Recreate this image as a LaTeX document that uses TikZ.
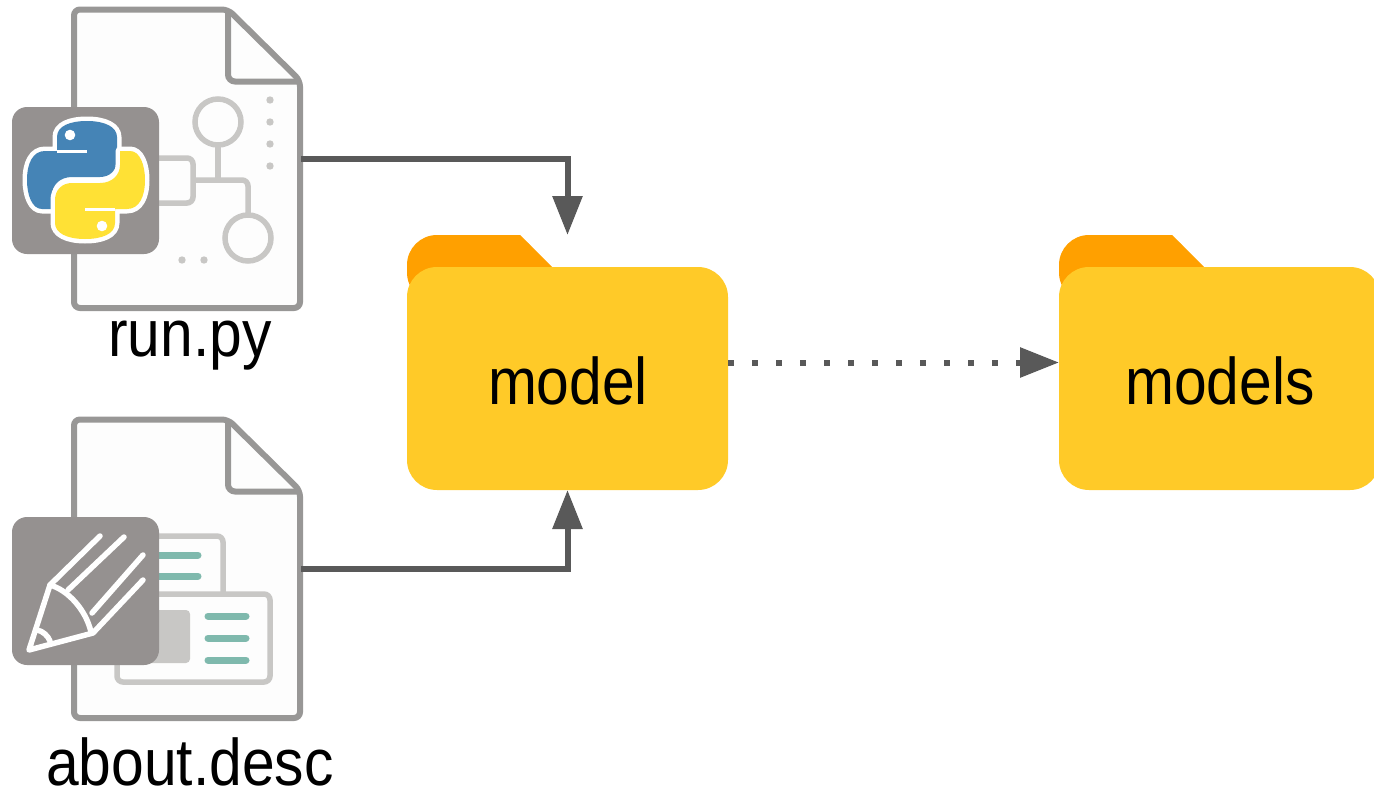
\documentclass[tikz,border=0pt]{standalone}
\usepackage{fontspec}
\setmainfont{Liberation Sans}[FakeStretch=0.89]
\usetikzlibrary{arrows.meta, positioning}
\definecolor{edgegrey}{HTML}{595959}
\definecolor{pagegrey}{HTML}{989796}
\definecolor{pagewhite}{HTML}{FDFDFD}
\definecolor{innergrey}{HTML}{C8C7C5}
\definecolor{badgegrey}{HTML}{959190}
\definecolor{tealbar}{HTML}{7FB9AD}
\definecolor{tabfill}{HTML}{FFA000}
\definecolor{folderfill}{HTML}{FFCA28}
\definecolor{pyblue}{HTML}{4584B6}
\definecolor{pyyellow}{HTML}{FFE135}
\newcommand{\snakepath}{(87,151) -- (57,151) -- (57,137) .. controls (57,126) and (70,121) .. (87,121) .. controls (105,121) and (117,127) .. (117,137) -- (117,160) .. controls (117,170) and (110,177) .. (100,177) -- (72,177) .. controls (60,177) and (52,185) .. (52,195) -- (52,209) -- (42,209) .. controls (32,209) and (27,195) .. (27,180) .. controls (27,163) and (33,151) .. (45,151) -- cycle}
\tikzset{
  pics/folder/.style={code={
    \fill[tabfill, rounded corners=30pt] (-160.5,-60) -- (-160.5,-127.5) -- (-30,-127.5) -- (-30,-60) -- cycle;
    \fill[tabfill] (-100,-127.5) -- (-47.5,-127.5) -- (-15.5,-95.5) -- (-15.5,-60) -- (-100,-60) -- cycle;
    \fill[folderfill, rounded corners=30pt] (-160.5,-95.5) rectangle (160.5,127.5);
  }},
  pics/paper/.style={code={
    \draw[pagegrey, line width=6pt, fill=pagewhite, rounded corners=6pt] (-113,-149) -- (41,-149) -- (113,-78) -- (113,149.5) -- (-113,149.5) -- cycle;
    \draw[pagegrey, line width=6pt, rounded corners=7pt] (41,-149) -- (41,-77) -- (113,-77);
  }}
}
\begin{document}
\begin{tikzpicture} [x=1pt, y=-1pt, node distance =652pt, on grid, semithick,
    hidden/.style ={ inner sep=0pt, outer sep=0pt},
    filebox/.style ={ hidden, minimum width=228pt, minimum height=299pt},
    folderbox/.style ={ hidden, minimum width=321pt, minimum height=255pt},
    caption/.style ={ inner sep=0pt, font=\fontsize{66}{70}\selectfont},
    conn/.style ={ edgegrey, line width=6pt, -{Triangle[length=39pt, width=29pt]}},
    inner/.style ={ innergrey, line width=5.5pt},
    tealline/.style ={ tealbar, line width=7pt, line cap=round},
    badge/.style ={ badgegrey, rounded corners=15pt},
    pencil/.style ={ white, line width=5.5pt, line cap=round, line join=round},
    snake/.style ={ preaction={draw=white, line width=9pt, line join=round}}]
  \useasboundingbox (0,0) rectangle (1374,790);
  % the two files
  \node[filebox] (runfile) at (187,158.5) {};
  \node[filebox] (aboutfile) [below=410pt of runfile] {};
  \pic at (runfile) {paper};
  \pic at (aboutfile) {paper};
  % graph on run.py
  \draw[inner, rounded corners=6pt] (150,158) -- (193,158) -- (193,203) -- (150,203);
  \draw[inner, rounded corners=6pt] (193,180) -- (248,180) -- (248,216);
  \draw[inner] (218,144) -- (218,180);
  \draw[inner] (218,122) circle (23);
  \draw[inner] (248,238) circle (23);
  \foreach \y in {100,122,144,166} \fill[innergrey] (270,\y) circle (3.7);
  \foreach \x in {182,204} \fill[innergrey] (\x,260) circle (3.7);
  % cards on about.desc
  \draw[inner, rounded corners=6pt] (150,536) -- (223,536) -- (223,594);
  \draw[inner, fill=pagewhite, rounded corners=6pt] (150,594) -- (117,594) -- (117,682) -- (270,682) -- (270,594) -- cycle;
  \fill[innergrey, rounded corners=4pt] (140,610) rectangle (190,663);
  \foreach \y in {555,576} \draw[tealline] (150,\y) -- (198,\y);
  \foreach \y in {616,638,660} \draw[tealline] (208,\y) -- (246,\y);
  % badges
  \fill[badge] (12,107) rectangle (159,254);
  \fill[badge] (12,517) rectangle (159,665);
  % python logo
  \fill[pyblue, snake] \snakepath;
  \begin{scope}[rotate around={180:(86,180)}]
    \fill[pyyellow, snake] \snakepath;
    \draw[white, line width=3pt] (57,151) -- (87,151);
  \end{scope}
  \draw[white, line width=3pt] (57,151) -- (87,151);
  \fill[white] (70,135) circle (5.3);
  \fill[white] (102,226) circle (5.3);
  % pencil
  \draw[pencil] (100,536) -- (50,585) -- (29,650) -- (93,633) -- (143,580);
  \draw[pencil] (50,585) .. controls (68,590) and (86,610) .. (91,632);
  \draw[pencil] (68,590) -- (124,537);
  \draw[pencil] (92,613) -- (143,555);
  \draw[pencil] (37,630) .. controls (43,631) and (48,636) .. (50,641);
  % the folders
  \node[folderbox] (model) at (567.5,362.5) {};
  \node[folderbox] (models) [right=of model] {};
  \pic at (model) {folder};
  \pic at (models) {folder};
  % labels
  \node[caption] (modellabel) at (568,381) {model};
  \node[caption] (modelslabel) at (1220,381) {models};
  \node[caption] (runlabel) at (190,346) {run.py};
  \node[caption] (aboutlabel) at (190,762) {about.desc};
  % connectors
  \draw[conn] (runfile.east) -| (model.north);
  \draw[conn] (aboutfile.east) -| (model.south);
  \draw[conn, dash pattern=on 6pt off 18pt] (model.east) -- (models.west);
\end{tikzpicture}
\end{document}
